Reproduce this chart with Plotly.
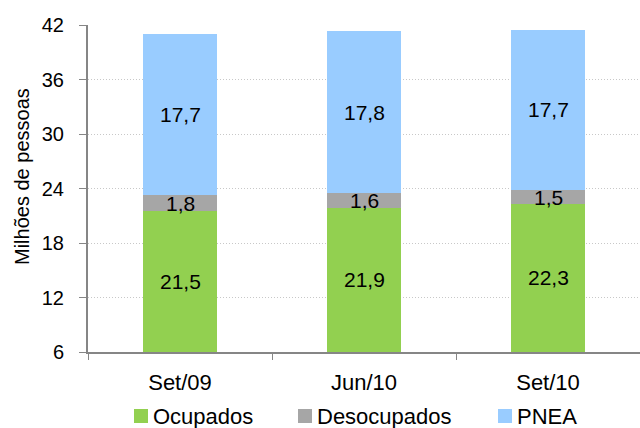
import plotly.graph_objects as go

categories = ["Set/09", "Jun/10", "Set/10"]
ocupados = [21.5, 21.9, 22.3]
desocupados = [1.8, 1.6, 1.5]
pnea = [17.7, 17.8, 17.7]
y_ticks = [6, 12, 18, 24, 30, 36, 42]
y_range = [6, 42]

series = [
    ("Ocupados", ocupados, "#92D050"),
    ("Desocupados", desocupados, "#A6A6A6"),
    ("PNEA", pnea, "#99CCFF"),
]
# left edge (px) of each legend swatch
legend_x = [134, 298, 498]

FONT = "Liberation Sans, Arial, Helvetica, sans-serif"
W, H = 640, 428
ML, MR, MT, MB = 88, 0, 25, 76

fig = go.Figure()
bases = [0.0] * len(categories)
for name, vals, color in series:
    fig.add_trace(go.Bar(
        x=categories, y=vals, name=name,
        marker=dict(color=color, line=dict(width=0)),
        textposition="none", showlegend=False,
    ))
    # value labels centred on the visible part of each segment
    for i, (cat, v) in enumerate(zip(categories, vals)):
        lo = max(bases[i], y_range[0])
        hi = min(bases[i] + v, y_range[1])
        fig.add_annotation(x=cat, y=(lo + hi) / 2, xref="x", yref="y",
                           text=f"{v:.1f}".replace(".", ","), showarrow=False,
                           xanchor="center", yanchor="middle",
                           font=dict(family=FONT, size=21, color="#000000"))
        bases[i] += v

# legend drawn below the plot: swatch + label per series
pw = W - ML - MR
ph = H - MT - MB
def px_x(x):
    return (x - ML) / pw
def px_y(y):
    return (H - MB - y) / ph

legend_cy = 416
for (name, _, color), lx in zip(series, legend_x):
    fig.add_shape(type="rect", xref="paper", yref="paper",
                  x0=px_x(lx), x1=px_x(lx + 14),
                  y0=px_y(legend_cy + 7), y1=px_y(legend_cy - 7),
                  fillcolor=color, line=dict(width=0))
    fig.add_annotation(xref="paper", yref="paper", x=px_x(lx + 17), y=px_y(legend_cy),
                       xanchor="left", yanchor="middle", showarrow=False,
                       text=name, font=dict(family=FONT, size=22, color="#000000"))

# y-axis title
fig.add_annotation(xref="paper", yref="paper", x=px_x(22), y=px_y(177),
                   xanchor="center", yanchor="middle", showarrow=False, textangle=-90,
                   text="Milhões de pessoas", font=dict(family=FONT, size=20, color="#000000"))

fig.update_layout(
    barmode="stack",
    bargap=0.6,
    width=W, height=H,
    margin=dict(l=ML, r=MR, t=MT, b=MB),
    paper_bgcolor="white", plot_bgcolor="white",
    font=dict(family=FONT, size=20, color="#000000"),
    showlegend=False,
)
fig.update_xaxes(
    showline=True, linecolor="#868686", linewidth=2,
    ticks="outside", tickson="boundaries", ticklen=6, tickcolor="#868686", tickwidth=1,
    tickfont=dict(size=22), ticklabelstandoff=10, showgrid=False,
)
fig.update_yaxes(
    range=y_range, tickvals=y_ticks,
    showline=True, linecolor="#868686", linewidth=2,
    ticks="outside", ticklen=7, tickcolor="#868686", tickwidth=1,
    showgrid=True, gridcolor="#C8C8C8", griddash="1px,2px", gridwidth=1,
    zeroline=False, tickfont=dict(size=20), ticklabelstandoff=11,
)

fig.write_html("out.html")
